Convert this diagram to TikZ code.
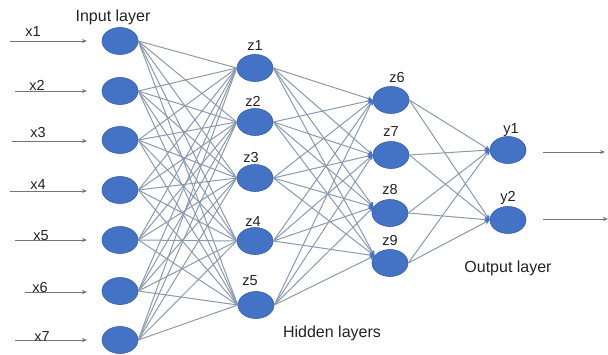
\documentclass[tikz,border=0pt]{standalone}
\usepackage{fontspec}
\setmainfont{Liberation Sans}
\usetikzlibrary{shapes.geometric,arrows.meta}
\definecolor{nodeblue}{RGB}{68,114,196}
\definecolor{nodeedge}{RGB}{55,95,170}
\definecolor{wire}{RGB}{138,154,176}
\definecolor{arrowgray}{RGB}{110,118,130}
\definecolor{txt}{RGB}{35,35,35}
\tikzset{
  neuron/.style={ellipse, fill=nodeblue, draw=nodeedge, line width=0.6pt, minimum width=36pt, minimum height=27pt, inner sep=0pt},
  varlabel/.style={font=\fontsize{14.5}{14.5}\selectfont, text=txt, inner sep=0pt},
  layerlabel/.style={font=\fontsize{16}{16}\selectfont, text=txt, inner sep=0pt},
  wirecon/.style={draw=wire, line width=1pt},
  wirearr/.style={draw=wire, line width=1pt, -{Stealth[length=5pt,width=5pt,color=nodeblue]}},
  inarrow/.style={draw=arrowgray, line width=0.9pt, -{Stealth[length=5pt,width=4pt]}}
}
\begin{document}
\begin{tikzpicture}[x=1pt,y=-1pt]
\useasboundingbox[fill=white] (0,0) rectangle (608,354);
% input layer
\node[neuron] (x1) at (120,41) {};
\node[neuron] (x2) at (120,91) {};
\node[neuron] (x3) at (120,140) {};
\node[neuron] (x4) at (120,190) {};
\node[neuron] (x5) at (120,240) {};
\node[neuron] (x6) at (120,291) {};
\node[neuron] (x7) at (120,340) {};
% hidden layer 1
\node[neuron] (z1) at (255,68) {};
\node[neuron] (z2) at (255,122) {};
\node[neuron] (z3) at (255,178) {};
\node[neuron] (z4) at (255,241) {};
\node[neuron] (z5) at (256,305) {};
% hidden layer 2
\node[neuron] (z6) at (391,100) {};
\node[neuron] (z7) at (391,155) {};
\node[neuron] (z8) at (390,213) {};
\node[neuron] (z9) at (390,263) {};
% output layer
\node[neuron] (y1) at (508,150) {};
\node[neuron] (y2) at (508,220) {};
% connections
\foreach \i in {1,...,7}{
  \foreach \j in {1,...,5}{
    \draw[wirecon] (x\i.east) -- (z\j.west);
  }
}
\foreach \i in {1,...,5}{
  \draw[wirearr] (z\i.east) -- (z6.west);
  \draw[wirearr] (z\i.east) -- (z7.west);
  \draw[wirearr] (z\i.east) -- (z8.160);
  \draw[wirearr] (z\i.east) -- (z9.155);
}
\foreach \i in {6,...,9}{
  \draw[wirearr] (z\i.east) -- (y1.west);
  \draw[wirearr] (z\i.east) -- (y2.west);
}
% input arrows
\coordinate (a1) at (10,41);  \coordinate (b1) at (87,41);
\coordinate (a2) at (15,91);  \coordinate (b2) at (87,91);
\coordinate (a3) at (12,141); \coordinate (b3) at (87,141);
\coordinate (a4) at (10,191); \coordinate (b4) at (87,191);
\coordinate (a5) at (15,240); \coordinate (b5) at (87,240);
\coordinate (a6) at (25,292); \coordinate (b6) at (87,292);
\coordinate (a7) at (15,340); \coordinate (b7) at (87,340);
\foreach \i in {1,...,7}{
  \draw[inarrow] (a\i) -- (b\i);
}
% output arrows
\coordinate (o1a) at (543,152); \coordinate (o1b) at (605,152);
\coordinate (o2a) at (543,219); \coordinate (o2b) at (608,219);
\draw[inarrow] (o1a) -- (o1b);
\draw[inarrow] (o2a) -- (o2b);
% input labels
\node[varlabel] (lx1) at (33,32) {x1};
\node[varlabel] (lx2) at (37,85) {x2};
\node[varlabel] (lx3) at (38,133) {x3};
\node[varlabel] (lx4) at (38,185) {x4};
\node[varlabel] (lx5) at (41,236) {x5};
\node[varlabel] (lx6) at (40,288) {x6};
\node[varlabel] (lx7) at (42,337) {x7};
% hidden labels
\node[varlabel] (lz1) at (255,46) {z1};
\node[varlabel] (lz2) at (253,101) {z2};
\node[varlabel] (lz3) at (251,158) {z3};
\node[varlabel] (lz4) at (253,222) {z4};
\node[varlabel] (lz5) at (250,281) {z5};
\node[varlabel] (lz6) at (397,78) {z6};
\node[varlabel] (lz7) at (391,132) {z7};
\node[varlabel] (lz8) at (390,190) {z8};
\node[varlabel] (lz9) at (390,241) {z9};
\node[varlabel] (ly1) at (511,130) {y1};
\node[varlabel] (ly2) at (508,198) {y2};
% layer labels
\node[layerlabel] (lin) at (113,17) {Input layer};
\node[layerlabel] (lhid) at (332,333) {Hidden layers};
\node[layerlabel] (lout) at (508,268) {Output layer};
\end{tikzpicture}
\end{document}
